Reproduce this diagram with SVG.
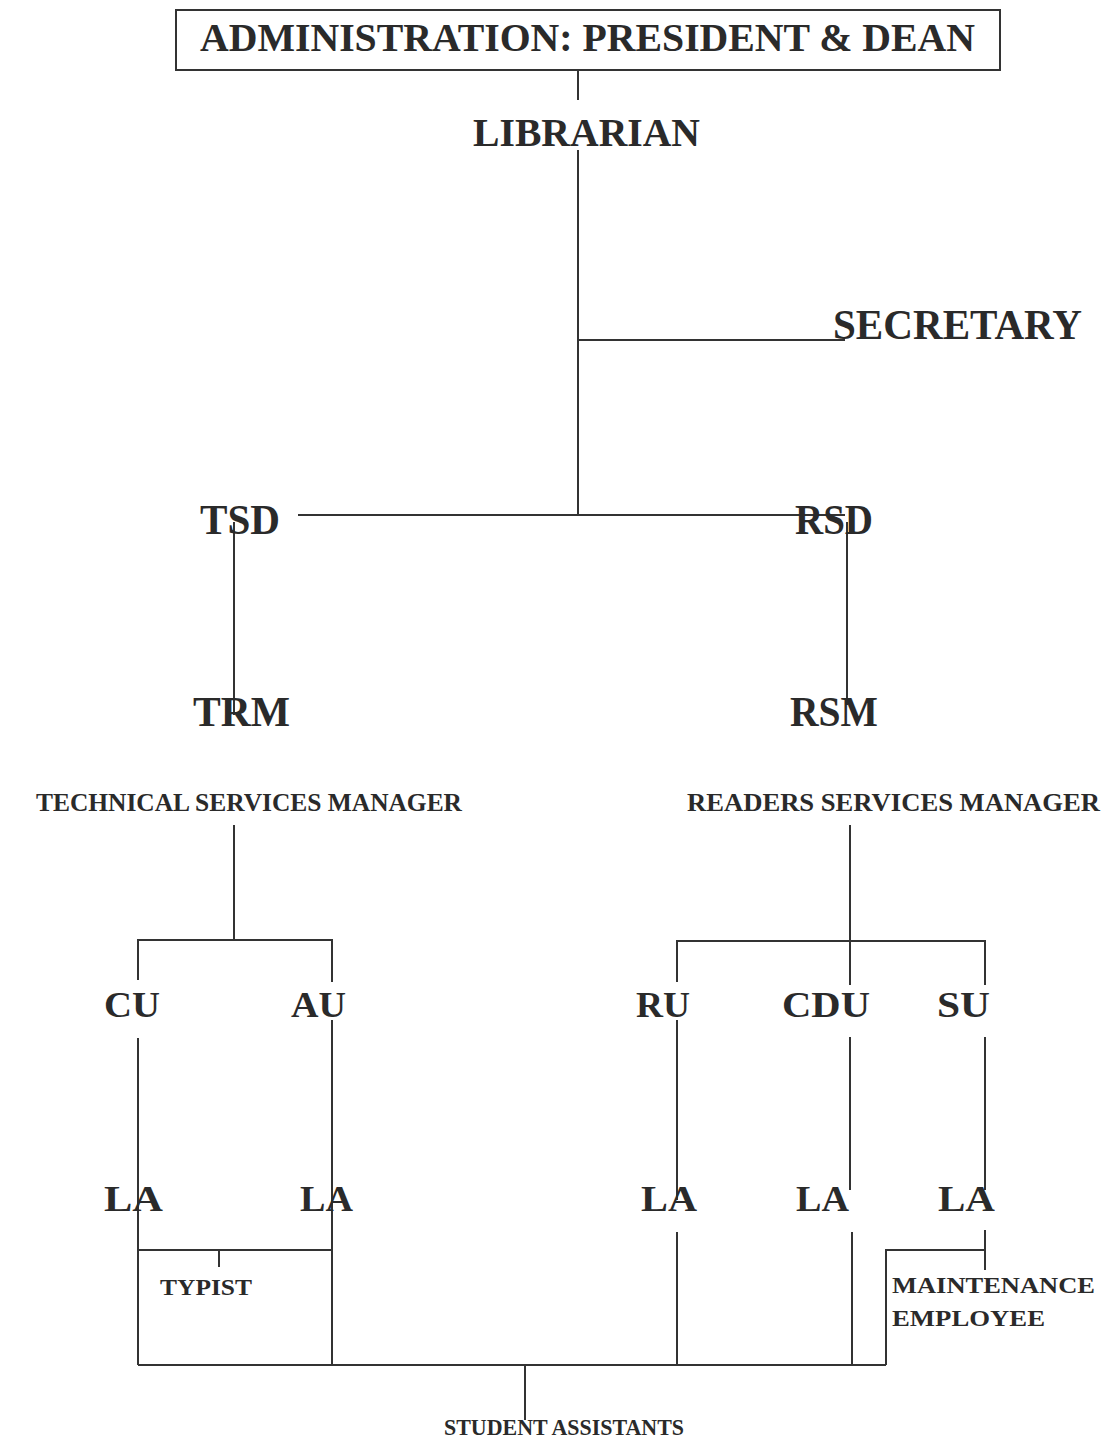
<svg xmlns="http://www.w3.org/2000/svg" width="1109" height="1440" viewBox="0 0 1109 1440">
<style>
text{font-family:"Liberation Serif","Times New Roman",serif;font-weight:bold;fill:#2a2a2a}
.xl{font-size:42px}
.l{font-size:40px}
.m{font-size:35px}
.s{font-size:26px}
.xs{font-size:23px}
#connectors line,#connectors polyline{stroke:#333;stroke-width:2;fill:none}
</style>
<rect width="1109" height="1440" fill="#fff"/>
<g id="connectors">
<line x1="578" y1="70" x2="578" y2="100"/>
<line x1="578" y1="150" x2="578" y2="515"/>
<line x1="578" y1="340" x2="845" y2="340"/>
<line x1="298" y1="515" x2="845" y2="515"/>
<line x1="234" y1="522" x2="234" y2="715"/>
<line x1="847" y1="522" x2="847" y2="705"/>
<line x1="234" y1="825" x2="234" y2="940"/>
<polyline points="138,980 138,940 332,940 332,982"/>
<line x1="850" y1="825" x2="850" y2="985"/>
<polyline points="677,982 677,941 985,941 985,985"/>
<line x1="138" y1="1038" x2="138" y2="1365"/>
<line x1="332" y1="1020" x2="332" y2="1365"/>
<line x1="138" y1="1250" x2="332" y2="1250"/>
<line x1="219" y1="1250" x2="219" y2="1267"/>
<line x1="677" y1="1020" x2="677" y2="1200"/>
<line x1="677" y1="1232" x2="677" y2="1365"/>
<line x1="850" y1="1037" x2="850" y2="1190"/>
<line x1="852" y1="1232" x2="852" y2="1365"/>
<line x1="985" y1="1037" x2="985" y2="1190"/>
<line x1="985" y1="1230" x2="985" y2="1270"/>
<polyline points="886,1365 886,1250 985,1250"/>
<line x1="138" y1="1365" x2="886" y2="1365"/>
<line x1="525" y1="1365" x2="525" y2="1420"/>
</g>
<g id="admin">
<rect x="176" y="10" width="824" height="60" fill="none" stroke="#333" stroke-width="2"/>
<text class="l" x="200" y="51" textLength="775" lengthAdjust="spacingAndGlyphs">ADMINISTRATION: PRESIDENT &amp; DEAN</text>
</g>
<g id="librarian"><text class="l" x="473" y="146" textLength="227" lengthAdjust="spacingAndGlyphs">LIBRARIAN</text></g>
<g id="secretary"><text class="xl" x="833" y="339" textLength="249" lengthAdjust="spacingAndGlyphs">SECRETARY</text></g>
<g id="tsd"><text class="xl" x="200" y="534" textLength="80" lengthAdjust="spacingAndGlyphs">TSD</text></g>
<g id="rsd"><text class="xl" x="795" y="534" textLength="78" lengthAdjust="spacingAndGlyphs">RSD</text></g>
<g id="trm"><text class="xl" x="193" y="726" textLength="97" lengthAdjust="spacingAndGlyphs">TRM</text></g>
<g id="rsm"><text class="xl" x="790" y="726" textLength="88" lengthAdjust="spacingAndGlyphs">RSM</text></g>
<g id="tsm"><text class="s" x="36" y="811" textLength="426" lengthAdjust="spacingAndGlyphs">TECHNICAL SERVICES MANAGER</text></g>
<g id="rsmgr"><text class="s" x="687" y="811" textLength="413" lengthAdjust="spacingAndGlyphs">READERS SERVICES MANAGER</text></g>
<g id="cu"><text class="m" x="104" y="1017" textLength="56" lengthAdjust="spacingAndGlyphs">CU</text></g>
<g id="au"><text class="m" x="291" y="1017" textLength="55" lengthAdjust="spacingAndGlyphs">AU</text></g>
<g id="ru"><text class="m" x="636" y="1017" textLength="54" lengthAdjust="spacingAndGlyphs">RU</text></g>
<g id="cdu"><text class="m" x="782" y="1017" textLength="88" lengthAdjust="spacingAndGlyphs">CDU</text></g>
<g id="su"><text class="m" x="937" y="1017" textLength="53" lengthAdjust="spacingAndGlyphs">SU</text></g>
<g id="la1"><text class="m" x="104" y="1211" textLength="59" lengthAdjust="spacingAndGlyphs">LA</text></g>
<g id="la2"><text class="m" x="300" y="1211" textLength="53" lengthAdjust="spacingAndGlyphs">LA</text></g>
<g id="la3"><text class="m" x="641" y="1211" textLength="56" lengthAdjust="spacingAndGlyphs">LA</text></g>
<g id="la4"><text class="m" x="796" y="1211" textLength="53" lengthAdjust="spacingAndGlyphs">LA</text></g>
<g id="la5"><text class="m" x="938" y="1211" textLength="57" lengthAdjust="spacingAndGlyphs">LA</text></g>
<g id="typist"><text class="xs" x="160" y="1295" textLength="92" lengthAdjust="spacingAndGlyphs">TYPIST</text></g>
<g id="maintenance">
<text class="xs" x="892" y="1293" textLength="203" lengthAdjust="spacingAndGlyphs">MAINTENANCE</text>
<text class="xs" x="892" y="1326" textLength="153" lengthAdjust="spacingAndGlyphs">EMPLOYEE</text>
</g>
<g id="students"><text class="xs" x="444" y="1435" textLength="240" lengthAdjust="spacingAndGlyphs">STUDENT ASSISTANTS</text></g>
</svg>
